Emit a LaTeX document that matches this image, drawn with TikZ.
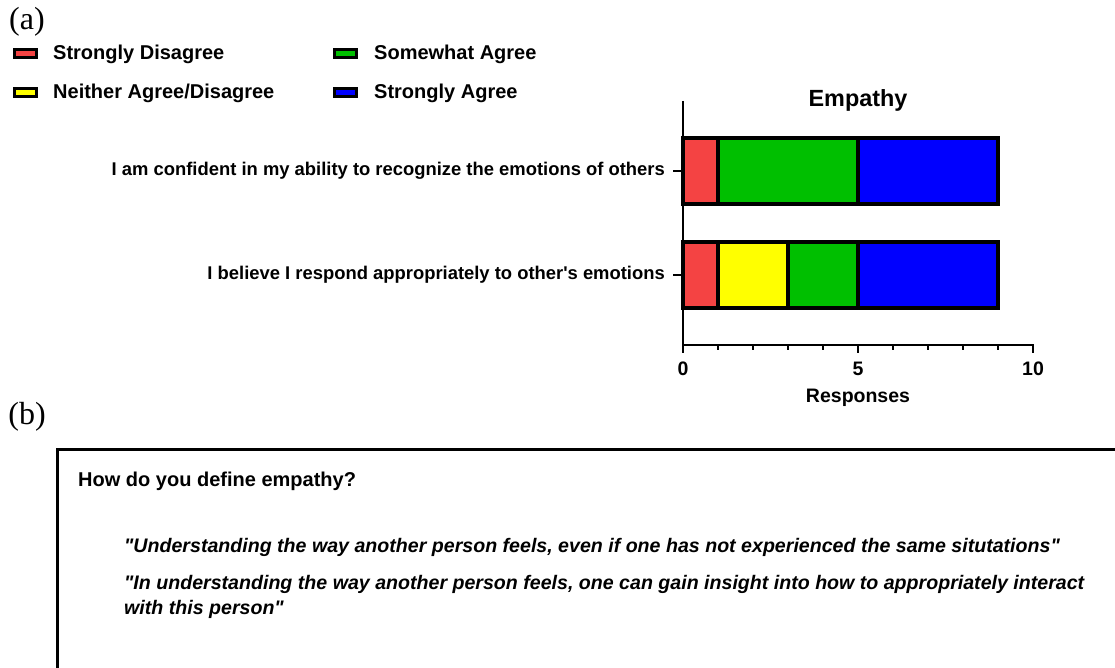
\documentclass[tikz,border=0pt]{standalone}
\usepackage{fontspec}
\setmainfont{Liberation Sans}[Ligatures=TeXOff]
\newfontfamily\labelfont{Liberation Serif}
\definecolor{cSD}{HTML}{F44343}
\definecolor{cN}{HTML}{FFFF00}
\definecolor{cSA}{HTML}{00BF00}
\definecolor{cA}{HTML}{0000FF}
\begin{document}
\begin{tikzpicture}[x=1pt,y=-1pt,
  seg/.style={draw=black,line width=3.2pt},
  swatch/.style={draw=black,line width=3pt},
  legtext/.style={anchor=west,font=\bfseries\fontsize{20}{23}\selectfont,inner sep=0pt},
  cattext/.style={anchor=east,font=\bfseries\fontsize{18.4}{21}\selectfont,inner sep=0pt},
  ticktext/.style={anchor=center,font=\bfseries\fontsize{19.5}{22}\selectfont,inner sep=0pt},
  quote/.style={anchor=north west,font=\bfseries\itshape\fontsize{19.6}{25}\selectfont,inner sep=0pt,align=left},
  panel/.style={anchor=center,font=\labelfont\fontsize{32}{34}\selectfont,inner sep=0pt}]
\useasboundingbox (0,0) rectangle (1115,668);
\clip (0,0) rectangle (1115,668);
% panel labels
\node[panel] (pa) at (27,22) {(a)};
\node[panel] (pb) at (27,417) {(b)};
% legend
\draw[swatch,fill=cSD] (14,50) rectangle (36,58);
\node[legtext] (l1) at (53,54) {Strongly Disagree};
\draw[swatch,fill=cN] (14,89) rectangle (36,97);
\node[legtext] (l2) at (53,93) {Neither Agree/Disagree};
\draw[swatch,fill=cSA] (334,50) rectangle (356,58);
\node[legtext] (l3) at (374,54) {Somewhat Agree};
\draw[swatch,fill=cA] (334,89) rectangle (356,97);
\node[legtext] (l4) at (374,93) {Strongly Agree};
% chart
\node[font=\bfseries\fontsize{23.4}{26}\selectfont,inner sep=0pt] (title) at (858,100) {Empathy};
% bars (1 unit = 35)
\draw[seg,fill=cSD] (683,138) rectangle (718,204);
\draw[seg,fill=cSA] (718,138) rectangle (858,204);
\draw[seg,fill=cA] (858,138) rectangle (998,204);
\draw[seg,fill=cSD] (683,242) rectangle (718,308);
\draw[seg,fill=cN] (718,242) rectangle (788,308);
\draw[seg,fill=cSA] (788,242) rectangle (858,308);
\draw[seg,fill=cA] (858,242) rectangle (998,308);
% axes
\draw[line width=2pt] (683,101) -- (683,353);
\draw[line width=2pt] (682,345) -- (1033,345);
\foreach \i in {1,2,3,4,6,7,8,9} {\draw[line width=2pt] (683+35*\i,345) -- (683+35*\i,350);}
\draw[line width=2pt] (858,345) -- (858,353);
\draw[line width=2pt] (1033,344) -- (1033,353);
\draw[line width=2pt] (673,171) -- (683,171);
\draw[line width=2pt] (673,275) -- (683,275);
\node[ticktext] (t0) at (683,369) {0};
\node[ticktext] (t5) at (858,369) {5};
\node[ticktext] (t10) at (1033,369) {10};
\node[ticktext] (xl) at (858,398) {Responses};
\node[cattext] (c1) at (665,171) {I am confident in my ability to recognize the emotions of others};
\node[cattext] (c2) at (665,275) {I believe I respond appropriately to other's emotions};
% box (b)
\draw[line width=3pt] (57,680) -- (57,449) -- (1125,449);
\node[anchor=west,font=\bfseries\fontsize{20}{24}\selectfont,inner sep=0pt] (q) at (78,481) {How do you define empathy?};
\node[quote,anchor=west] (a1) at (124,547) {"Understanding the way another person feels, even if one has not experienced the same situtations"};
\node[quote] (a2) at (124,575) {"In understanding the way another person feels, one can gain insight into how to appropriately interact\\with this person"};
\end{tikzpicture}
\end{document}
